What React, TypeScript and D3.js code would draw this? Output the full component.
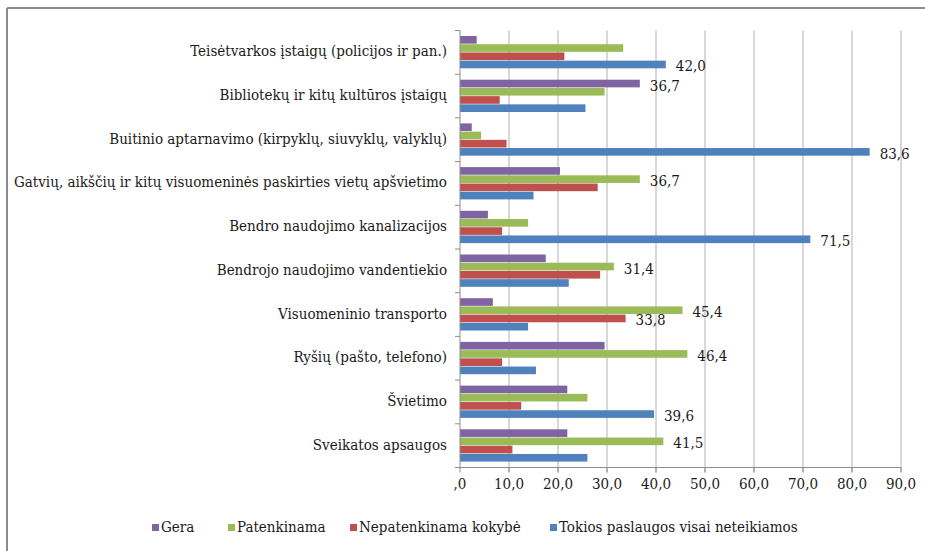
import * as d3 from 'd3';

// paslaugų kategorijos (iš viršaus į apačią)
const categories = [
  'Teisėtvarkos įstaigų (policijos ir pan.)',
  'Bibliotekų ir kitų kultūros įstaigų',
  'Buitinio aptarnavimo (kirpyklų, siuvyklų, valyklų)',
  'Gatvių, aikščių ir kitų visuomeninės paskirties vietų apšvietimo',
  'Bendro naudojimo kanalizacijos',
  'Bendrojo naudojimo vandentiekio',
  'Visuomeninio transporto',
  'Ryšių (pašto, telefono)',
  'Švietimo',
  'Sveikatos apsaugos',
];

const seriesNames = ['Gera', 'Patenkinama', 'Nepatenkinama kokybė', 'Tokios paslaugos visai neteikiamos'];
const seriesColors = ['#8064A2', '#9BBB59', '#C0504D', '#4F81BD'];

const gera = [3.4, 36.7, 2.4, 20.4, 5.7, 17.5, 6.7, 29.5, 21.9, 21.9];
const patenkinama = [33.3, 29.5, 4.3, 36.7, 13.9, 31.4, 45.4, 46.4, 26.0, 41.5];
const nepatenkinama = [21.3, 8.1, 9.5, 28.1, 8.6, 28.6, 33.8, 8.6, 12.5, 10.7];
const neteikiamos = [42.0, 25.6, 83.6, 15.0, 71.5, 22.2, 13.9, 15.5, 39.6, 26.0];

// kurios reikšmės pažymėtos etiketėmis: [kategorija, serija]
const labelled = [
  [0, 3], [1, 0], [2, 3], [3, 1], [4, 3], [5, 1], [6, 1], [6, 2], [7, 1], [8, 3], [9, 1],
];

const xTicks = [0, 10, 20, 30, 40, 50, 60, 70, 80, 90];

const W = 925;
const H = 551;
const FONT = "'DejaVu Serif Condensed', 'DejaVu Serif', serif";

const fmt = (v: number) => (v === 0 ? ',0' : v.toFixed(1).replace('.', ','));

export default function App() {
  const series = [gera, patenkinama, nepatenkinama, neteikiamos];

  const x = d3.scaleLinear().domain([0, 90]).range([460, 901]);
  const y = d3.scaleBand<string>().domain(categories).range([30.5, 467.5]).padding(0);
  const inner = d3
    .scaleBand<number>()
    .domain(d3.range(4))
    .range([5.5, 37.8])
    .paddingInner(0.07);

  const top = y.range()[0];
  const bottom = y.range()[1];
  const txt = { fontFamily: FONT, fontSize: 15, fill: '#1a1a1a' };

  const legendX = [152, 228, 350, 550];

  return (
    <svg
      width={W}
      height={H}
      style={{ position: 'absolute', left: 0, top: 0, background: '#fff', fontFamily: FONT }}
    >
      {/* rėmelis */}
      <line x1={7} x2={W} y1={8} y2={8} stroke="#8c8c8c" strokeWidth={2} />
      <line x1={7} x2={7} y1={8} y2={H} stroke="#8c8c8c" strokeWidth={2} />

      {/* tinklelis */}
      {xTicks.slice(1).map((t) => (
        <line key={t} x1={x(t)} x2={x(t)} y1={top} y2={bottom + 5} stroke="#b0b0b0" strokeWidth={1} />
      ))}

      {/* stulpeliai */}
      {categories.map((c, i) => (
        <g key={c} transform={`translate(0,${y(c)})`}>
          {series.map((s, k) => (
            <rect
              key={k}
              x={x(0)}
              y={inner(k)}
              width={x(s[i]) - x(0)}
              height={inner.bandwidth()}
              fill={seriesColors[k]}
            />
          ))}
        </g>
      ))}

      {/* ašys */}
      <line x1={x(0)} x2={x(0)} y1={top} y2={bottom} stroke="#8c8c8c" />
      <line x1={x(0)} x2={x(90)} y1={bottom} y2={bottom} stroke="#8c8c8c" />
      {xTicks.map((t) => (
        <g key={t}>
          <line x1={x(t)} x2={x(t)} y1={bottom} y2={bottom + 5} stroke="#8c8c8c" />
          <text x={x(t)} y={bottom + 17} textAnchor="middle" dominantBaseline="middle" style={txt}>
            {fmt(t)}
          </text>
        </g>
      ))}
      {d3.range(categories.length + 1).map((i) => {
        const yy = top + i * y.step();
        return <line key={i} x1={x(0) - 5} x2={x(0)} y1={yy} y2={yy} stroke="#8c8c8c" />;
      })}
      {categories.map((c) => (
        <text
          key={c}
          x={447}
          y={(y(c) as number) + y.bandwidth() / 2}
          textAnchor="end"
          dominantBaseline="middle"
          style={txt}
        >
          {c}
        </text>
      ))}

      {/* reikšmių etiketės */}
      {labelled.map(([i, k]) => {
        const v = series[k][i];
        return (
          <text
            key={`${i}-${k}`}
            x={x(v) + 10}
            y={(y(categories[i]) as number) + (inner(k) as number) + inner.bandwidth() / 2 + 3}
            dominantBaseline="middle"
            style={txt}
          >
            {fmt(v)}
          </text>
        );
      })}

      {/* legenda */}
      {seriesNames.map((n, k) => (
        <g key={n}>
          <rect x={legendX[k]} y={524} width={7} height={7} fill={seriesColors[k]} />
          <text x={legendX[k] + 9} y={528} dominantBaseline="middle" style={txt}>
            {n}
          </text>
        </g>
      ))}
    </svg>
  );
}
